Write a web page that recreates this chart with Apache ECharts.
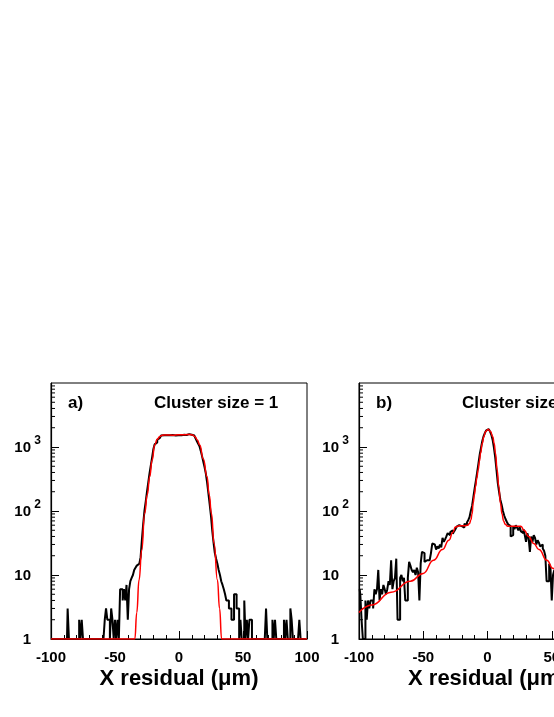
<!DOCTYPE html>
<html>
<head>
<meta charset="utf-8">
<title>X residual</title>
<script src="https://cdn.jsdelivr.net/npm/echarts/dist/echarts.min.js"></script>
<style>
  html, body { margin: 0; padding: 0; background: #fff; overflow: hidden; }
  /* wider than the window: panel b) runs off the right edge */
  #chart { width: 640px; height: 717px; }
</style>
</head>
<body>
<div id="chart"></div>
<script>
// bins are 1 um wide, the first one starts at -100 um
const binStart = -100
const binWidth = 1

// a) cluster size = 1, entries per bin from -100 to +100
const countsA = [
  0, 0, 0, 0, 0, 0, 0, 0, 0, 0,
  0, 0, 0, 3, 0, 0, 0, 0, 0, 0,
  0, 0, 2, 1, 2, 0, 0, 0, 0, 0,
  0, 0, 0, 0, 0, 0, 0, 0, 0, 0,
  0, 1, 2, 3, 2, 2, 1, 3, 2, 1,
  2, 1, 2, 1, 6, 6, 4, 6, 4, 7,
  2, 6, 8, 9, 10, 12, 13, 14, 15, 16,
  19, 35, 62, 100, 140, 200, 280, 390, 520, 690,
  930, 1100, 1180, 1290, 1380, 1460, 1510, 1540, 1530, 1500,
  1520, 1490, 1530, 1510, 1500, 1540, 1520, 1510, 1550, 1530,
  1540, 1520, 1560, 1550, 1570, 1540, 1580, 1560, 1590, 1570,
  1550, 1510, 1450, 1350, 1230, 1120, 1030, 870, 720, 590,
  480, 380, 275, 186, 126, 83, 49, 32, 22, 18,
  15, 12, 10, 8, 7, 6, 5, 4, 4, 3,
  3, 2, 2, 5, 5, 3, 3, 1, 2, 1,
  1, 4, 1, 2, 0, 2, 2, 0, 0, 0,
  0, 0, 0, 0, 0, 0, 0, 0, 3, 1,
  0, 0, 0, 2, 1, 2, 0, 0, 0, 0,
  0, 0, 2, 0, 2, 0, 0, 3, 2, 0,
  0, 0, 0, 0, 2, 0, 0, 0, 0, 0
]

// b) cluster size = 2, entries per bin from -100 to +54 (the rest is cut off)
const countsB = [
  6, 5, 2, 1, 0, 4, 2, 4, 3, 4,
  4, 3, 6, 5, 6, 12, 4, 6, 5, 7,
  6, 5, 6, 8, 7, 17, 6, 8, 9, 18,
  2, 2, 9, 10, 8, 9, 4, 4, 9, 16,
  14, 12, 11, 12, 10, 13, 11, 4, 15, 23,
  22, 16, 17, 18, 17, 16, 22, 31, 30, 28,
  25, 28, 26, 30, 27, 38, 33, 36, 40, 45,
  42, 47, 50, 44, 48, 52, 57, 56, 60, 58,
  62, 55, 63, 61, 66, 72, 80, 100, 120, 165,
  225, 300, 410, 560, 770, 980, 1250, 1480, 1660, 1820,
  1900, 1860, 1740, 1550, 1290, 980, 690, 440, 275, 200,
  150, 125, 100, 85, 75, 68, 62, 58, 40, 42,
  58, 52, 60, 55, 50, 56, 48, 45, 52, 42,
  33, 45, 38, 23, 40, 33, 42, 38, 30, 35,
  32, 28, 30, 26, 24, 20, 8, 8, 15, 13,
  4, 10, 12, 10
]

// fitted curves at a few points
const fitAx = [-100, -34.5, -33, -31.2, -29.1, -26.8, -24.8, -22.9, -21, -19, -17, -15, -13, -10, -5, 0, 5, 8.5, 10.7, 12.5, 14.3, 16.2, 19, 21.9, 23.6, 25.3, 27.4, 30, 31.7, 33.3, 100]
const fitAy = [1, 1, 2.6, 8.4, 24.6, 92, 180, 343, 620, 1070, 1320, 1460, 1530, 1540, 1530, 1550, 1560, 1570, 1540, 1450, 1290, 1070, 650, 343, 180, 92, 31, 8.4, 3, 1, 1]
const fitBx = [-100, -90, -75, -60, -50, -42, -35, -30, -27, -25, -22, -18, -15.5, -14, -13, -12, -11.2, -10.2, -9.3, -8.3, -7.3, -6.3, -5.4, -4.1, -2.9, -1.5, 0.5, 2.3, 4.1, 5.2, 6.2, 7.5, 8.8, 10.1, 11.3, 12.5, 13.8, 15.8, 20, 26, 28.5, 32, 36, 40, 46.3, 50.8, 55]
const fitBy = [2.6, 3.4, 5.4, 8, 10.6, 17, 25, 35, 46, 56, 59, 59, 60, 64, 72, 90, 132, 180, 240, 330, 437, 600, 800, 1130, 1450, 1750, 1900, 1750, 1450, 1130, 800, 437, 240, 132, 90, 70, 62, 58, 58, 58, 50, 40, 31, 25, 17, 12.7, 10]

const xTicks = [-100, -50, 0, 50, 100]
const yRange = [1, 10000]
const panelTags = ['a)', 'b)']
const panelTitles = ['Cluster size = 1', 'Cluster size = 2']
const xTitle = 'X residual (\u03bcm)'

const font = 'Liberation Sans, Arial, Helvetica, sans-serif'

// log minor ticks 2..9 in every decade
const yMinor = []
for (let d = yRange[0]; d < yRange[1]; d *= 10) {
  for (let k = 2; k <= 9; k++) yMinor.push(d * k)
}

function histData(counts) {
  // zero bins sit on the bottom of the log axis, like ROOT draws them
  return counts.map((c, i) => [binStart + (i + 0.5) * binWidth, Math.max(c, yRange[0])])
}

function yLabel(v) {
  const p = Math.round(Math.log10(v))
  if (p === 0) return '{b|1}{s| }'
  if (p === 1) return '{b|10}{s| }'
  return '{b|10}{s|' + p + '}'
}

const chart = echarts.init(document.getElementById('chart'))

const grids = [
  { left: 51, top: 383, width: 256, height: 256 },
  { left: 359, top: 383, width: 257, height: 256 }
]

const option = {
  animation: false,
  backgroundColor: '#fff',
  title: [],
  grid: grids.map(g => Object.assign({ show: true, borderColor: '#000', borderWidth: 1, backgroundColor: 'transparent' }, g)),
  xAxis: [],
  yAxis: [],
  series: []
}

grids.forEach((g, i) => {
  option.title.push({
    text: panelTags[i], left: g.left + 17, top: 395, padding: 0,
    textStyle: { fontFamily: font, fontWeight: 'bold', fontSize: 17, color: '#000' }
  })
  option.title.push({
    text: panelTitles[i], left: g.left + 103, top: 395, padding: 0,
    textStyle: { fontFamily: font, fontWeight: 'bold', fontSize: 17, color: '#000' }
  })
  option.xAxis.push({
    gridIndex: i,
    type: 'value',
    min: xTicks[0],
    max: xTicks[xTicks.length - 1],
    interval: xTicks[1] - xTicks[0],
    axisLine: { onZero: false, lineStyle: { color: '#000', width: 1.2 } },
    axisTick: { inside: true, length: 8, lineStyle: { color: '#000' } },
    minorTick: { show: true, splitNumber: 5, length: 4, lineStyle: { color: '#000' } },
    splitLine: { show: false },
    axisLabel: { margin: 11, color: '#000', fontFamily: font, fontWeight: 'bold', fontSize: 15 },
    name: xTitle,
    nameLocation: 'middle',
    nameGap: 29,
    nameTextStyle: { color: '#000', fontFamily: font, fontWeight: 'bold', fontSize: 22 }
  })
  option.yAxis.push({
    gridIndex: i,
    type: 'log',
    logBase: 10,
    min: yRange[0],
    max: yRange[1],
    axisLine: { onZero: false, lineStyle: { color: '#000', width: 1.2 } },
    axisTick: { inside: true, length: 8, lineStyle: { color: '#000' } },
    splitLine: { show: false },
    axisLabel: {
      margin: 10,
      padding: [2, 0, 0, 0],
      showMaxLabel: false,
      formatter: yLabel,
      rich: {
        b: { fontFamily: font, fontWeight: 'bold', fontSize: 15, lineHeight: 15, verticalAlign: 'bottom', color: '#000' },
        s: { fontFamily: font, fontWeight: 'bold', fontSize: 12, lineHeight: 12, width: 7, padding: [0, 0, 9, 3], verticalAlign: 'bottom', color: '#000' }
      }
    }
  })
  // minor ticks of the log axis
  option.series.push({
    type: 'custom',
    xAxisIndex: i,
    yAxisIndex: i,
    silent: true,
    data: yMinor.map(v => [xTicks[0], v]),
    renderItem: function(params, api) {
      const p = api.coord([api.value(0), api.value(1)])
      return {
        type: 'line',
        shape: { x1: p[0], y1: p[1], x2: p[0] + 4, y2: p[1] },
        style: { stroke: '#000', lineWidth: 1 }
      }
    }
  })
})

option.series.push({
  type: 'line', xAxisIndex: 0, yAxisIndex: 0,
  step: 'middle', symbol: 'none',
  lineStyle: { color: '#000', width: 2 },
  data: histData(countsA)
})
option.series.push({
  type: 'line', xAxisIndex: 0, yAxisIndex: 0,
  smooth: true, smoothMonotone: 'x', symbol: 'none',
  lineStyle: { color: '#ff0000', width: 1.5 },
  data: fitAx.map((x, k) => [x, fitAy[k]])
})
option.series.push({
  type: 'line', xAxisIndex: 1, yAxisIndex: 1,
  step: 'middle', symbol: 'none',
  lineStyle: { color: '#000', width: 2 },
  data: histData(countsB)
})
option.series.push({
  type: 'line', xAxisIndex: 1, yAxisIndex: 1,
  smooth: true, smoothMonotone: 'x', symbol: 'none',
  lineStyle: { color: '#ff0000', width: 1.5 },
  data: fitBx.map((x, k) => [x, fitBy[k]])
})

chart.setOption(option)
</script>
</body>
</html>
